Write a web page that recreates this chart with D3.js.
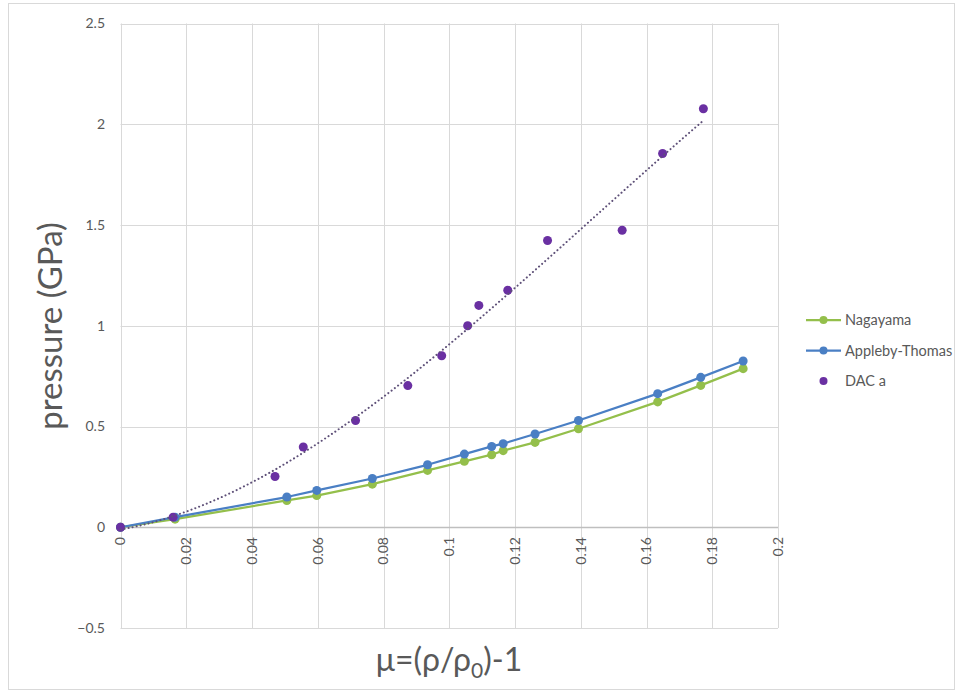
<!DOCTYPE html>
<html>
<head>
<meta charset="utf-8">
<script src="https://cdn.jsdelivr.net/npm/d3@7"></script>
<style>
  html, body { margin: 0; padding: 0; background: #ffffff; }
  svg { display: block; font-family: Lato, "Open Sans", "Noto Sans", sans-serif; }
</style>
</head>
<body>
<svg id="chart" width="963" height="695"></svg>
<script>
// Compression μ for the two model curves (shared abscissae)
const muModel = [0, 0.0166, 0.0506, 0.0597, 0.0766, 0.0934, 0.1046, 0.1129, 0.1164, 0.1261, 0.1393, 0.1634, 0.1765, 0.1894];
// Pressure (GPa) from the Nagayama model
const nagayama = [0, 0.040, 0.133, 0.157, 0.214, 0.282, 0.327, 0.360, 0.380, 0.421, 0.489, 0.622, 0.704, 0.787];
// Pressure (GPa) from the Appleby-Thomas model
const applebyThomas = [0, 0.050, 0.150, 0.183, 0.242, 0.310, 0.363, 0.401, 0.415, 0.463, 0.530, 0.663, 0.744, 0.825];
// Diamond-anvil-cell measurements
const muDAC = [0, 0.0160, 0.0470, 0.0556, 0.0715, 0.0874, 0.0977, 0.1056, 0.1090, 0.1178, 0.1299, 0.1526, 0.1649, 0.1773];
const dacA = [0, 0.050, 0.252, 0.398, 0.530, 0.703, 0.851, 1.000, 1.101, 1.176, 1.423, 1.474, 1.855, 2.077];

const xTicks = [0, 0.02, 0.04, 0.06, 0.08, 0.1, 0.12, 0.14, 0.16, 0.18, 0.2];
const yTicks = [-0.5, 0, 0.5, 1, 1.5, 2, 2.5];

const seriesNames = ["Nagayama", "Appleby-Thomas", "DAC a"];
const seriesColors = ["#94bf4b", "#4a7fc4", "#6a30a2"];
const trendColor = "#5e5078";

const svg = d3.select("#chart");

// outer chart frame
svg.append("rect")
  .attr("x", 8.5).attr("y", 3.5).attr("width", 946).attr("height", 686)
  .attr("fill", "#ffffff").attr("stroke", "#d9d9d9").attr("stroke-width", 1);

const x = d3.scaleLinear().domain([0, 0.2]).range([120.5, 778]);
const y = d3.scaleLinear().domain([-0.5, 2.5]).range([628, 23.5]);

const grid = svg.append("g");
// vertical gridlines
grid.selectAll("line.v").data(xTicks).join("line")
  .attr("x1", d => Math.round(x(d)) + 0.5).attr("x2", d => Math.round(x(d)) + 0.5)
  .attr("y1", y(2.5)).attr("y2", y(-0.5))
  .attr("stroke", "#d9d9d9").attr("stroke-width", 1);
// horizontal gridlines
grid.selectAll("line.h").data(yTicks).join("line")
  .attr("x1", x(0)).attr("x2", x(0.2))
  .attr("y1", d => Math.round(y(d)) + 0.5).attr("y2", d => Math.round(y(d)) + 0.5)
  .attr("stroke", d => d === 0 ? "#bfbfbf" : "#d9d9d9").attr("stroke-width", d => d === 0 ? 1.5 : 1);

// y tick labels
svg.append("g").selectAll("text").data(yTicks).join("text")
  .attr("x", 105).attr("y", d => y(d)).attr("dy", "0.35em")
  .attr("text-anchor", "end").attr("font-size", 14).attr("fill", "#595959")
  .text(d => d3.format("")(d));

// x tick labels, rotated, hanging below the zero line
svg.append("g").selectAll("text").data(xTicks).join("text")
  .attr("transform", d => `translate(${x(d)},537) rotate(-90)`)
  .attr("dy", "0.35em")
  .attr("text-anchor", "end").attr("font-size", 14).attr("fill", "#595959")
  .text(d => d3.format("")(d));

// axis titles
svg.append("text")
  .attr("transform", "translate(62,326) rotate(-90)")
  .attr("text-anchor", "middle").attr("font-size", 33).attr("fill", "#595959")
  .text("pressure (GPa)");

const xt = svg.append("text")
  .attr("x", 449).attr("y", 671)
  .attr("text-anchor", "middle").attr("font-size", 32).attr("fill", "#595959");
xt.append("tspan").text("μ=(ρ/ρ");
xt.append("tspan").attr("font-size", 21).attr("dy", 7).text("0");
xt.append("tspan").attr("dy", -7).text(")-1");

// model series
const models = [
  { name: seriesNames[0], color: seriesColors[0], pts: muModel.map((m, i) => [m, nagayama[i]]) },
  { name: seriesNames[1], color: seriesColors[1], pts: muModel.map((m, i) => [m, applebyThomas[i]]) }
];
const line = d3.line().x(d => x(d[0])).y(d => y(d[1]));

models.forEach(s => {
  const g = svg.append("g");
  g.append("path").attr("d", line(s.pts)).attr("fill", "none")
    .attr("stroke", s.color).attr("stroke-width", 2.25).attr("stroke-linejoin", "round");
  g.selectAll("circle").data(s.pts).join("circle")
    .attr("cx", d => x(d[0])).attr("cy", d => y(d[1])).attr("r", 4.5)
    .attr("fill", s.color);
});

// DAC measurements
const dacPts = muDAC.map((m, i) => [m, dacA[i]]);
svg.append("g").selectAll("circle").data(dacPts).join("circle")
  .attr("cx", d => x(d[0])).attr("cy", d => y(d[1])).attr("r", 4.5)
  .attr("fill", seriesColors[2]);

// least-squares polynomial trendline through the DAC data
function polyFit(xs, ys, order) {
  const n = order + 1;
  const A = [];
  for (let r = 0; r < n; r++) {
    const row = [];
    for (let c = 0; c < n; c++) row.push(d3.sum(xs, xv => Math.pow(xv, r + c)));
    row.push(d3.sum(xs, (xv, i) => ys[i] * Math.pow(xv, r)));
    A.push(row);
  }
  for (let i = 0; i < n; i++) {
    for (let j = i + 1; j < n; j++) {
      const f = A[j][i] / A[i][i];
      for (let k = i; k <= n; k++) A[j][k] -= f * A[i][k];
    }
  }
  const c = new Array(n).fill(0);
  for (let i = n - 1; i >= 0; i--) {
    let v = A[i][n];
    for (let k = i + 1; k < n; k++) v -= A[i][k] * c[k];
    c[i] = v / A[i][i];
  }
  return c;
}
const coef = polyFit(muDAC, dacA, 3);
const evalPoly = m => coef.reduce((acc, c, k) => acc + c * Math.pow(m, k), 0);
const trendX = d3.range(0, 61).map(i => d3.max(muDAC) * i / 60);
svg.append("path")
  .attr("d", line(trendX.map(m => [m, evalPoly(m)])))
  .attr("fill", "none").attr("stroke", trendColor).attr("stroke-width", 2)
  .attr("stroke-dasharray", "0.1 4").attr("stroke-linecap", "round");

// legend
const legend = svg.append("g").attr("transform", "translate(806,320)");
seriesNames.forEach((n, i) => {
  const row = legend.append("g").attr("transform", `translate(0,${i * 30.5})`);
  if (i < 2) {
    row.append("line").attr("x1", 0).attr("x2", 35).attr("y1", 0).attr("y2", 0)
      .attr("stroke", seriesColors[i]).attr("stroke-width", 2.25);
  }
  row.append("circle").attr("cx", 17.5).attr("cy", 0).attr("r", 4).attr("fill", seriesColors[i]);
  row.append("text").attr("x", 39).attr("y", 0).attr("dy", "0.35em")
    .attr("font-size", 14.5).attr("fill", "#595959").text(n);
});
</script>
</body>
</html>
